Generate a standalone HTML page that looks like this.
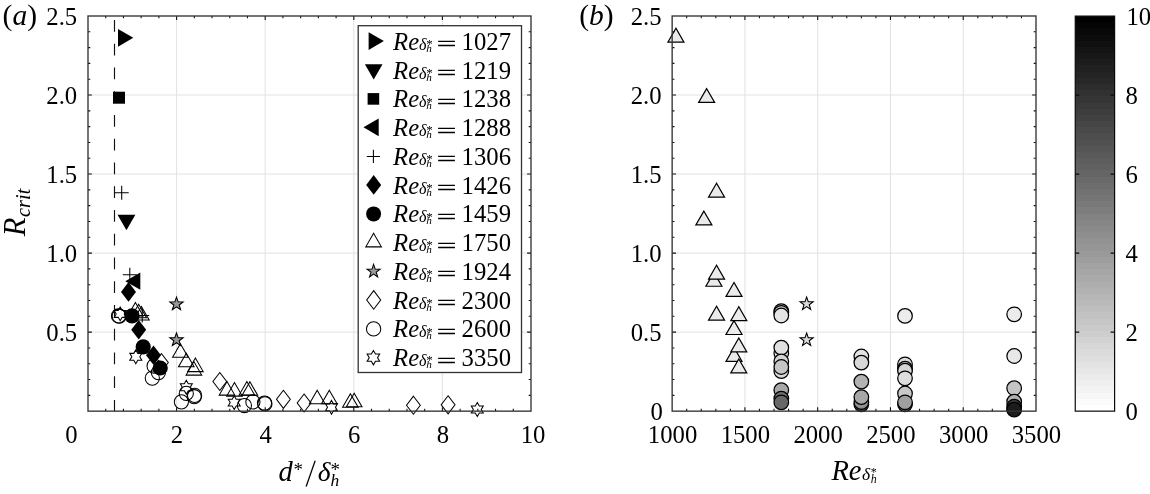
<!DOCTYPE html>
<html lang="en"><head><meta charset="utf-8"><title>Figure: R_crit scatter plots</title>
<style>html,body{margin:0;padding:0;background:#fff;}svg{display:block;}text{font-family:'Liberation Serif', 'DejaVu Serif', serif;fill:#000;}</style></head><body>
<svg width="1150" height="494" viewBox="0 0 1150 494" role="img" aria-label="Scatter plots of R_crit">
<rect width="1150" height="494" fill="#fff"/>
<g id="grid">
<path d="M176.6 16V411.15M265.2 16V411.15M353.8 16V411.15M442.4 16V411.15M88 332.12H531M88 253.09H531M88 174.06H531M88 95.03H531" stroke="#e2e2e2" stroke-width="1" fill="none"/>
<path d="M744.92 16V411.15M817.69 16V411.15M890.46 16V411.15M963.23 16V411.15M672.15 332.12H1036M672.15 253.09H1036M672.15 174.06H1036M672.15 95.03H1036" stroke="#e2e2e2" stroke-width="1" fill="none"/>
</g>
<path d="M114.5 19.9V31.7M114.5 43.65V55.45M114.5 67.4V79.2M114.5 91.15V102.95M114.5 114.9V126.7M114.5 138.65V150.45M114.5 162.4V174.2M114.5 186.15V197.95M114.5 209.9V221.7M114.5 233.65V245.45M114.5 257.4V269.2M114.5 281.15V292.95M114.5 304.9V316.7M114.5 328.65V340.45M114.5 352.4V364.2M114.5 376.15V387.95M114.5 399.9V411.15" stroke="#111" stroke-width="1.15" fill="none"/>
<g id="markers-a">
<polygon points="133.3,37.8 118,28.97 118,46.63" fill="#000" stroke="none" stroke-width="0" stroke-linejoin="miter" />
<polygon points="126.45,230.3 117.53,214.85 135.37,214.85" fill="#000" stroke="none" stroke-width="0" stroke-linejoin="miter" />
<rect x="113" y="91.7" width="12" height="12" fill="#000"/>
<polygon points="125.3,281.2 140.3,272.54 140.3,289.86" fill="#000" stroke="none" stroke-width="0" stroke-linejoin="miter" />
<path d="M114.7 192.7H128.7M121.7 185.7V199.7" stroke="#000" stroke-width="1.05" fill="none"/>
<path d="M122.8 274.7H136.8M129.8 267.7V281.7" stroke="#000" stroke-width="1.05" fill="none"/>
<path d="M135.2 315.4H149.2M142.2 308.4V322.4" stroke="#000" stroke-width="1.05" fill="none"/>
<polygon points="128.5,282.1 136,291.9 128.5,301.7 121,291.9" fill="#000" stroke="none" stroke-width="0" stroke-linejoin="miter" />
<polygon points="138.7,319.9 146.2,329.7 138.7,339.5 131.2,329.7" fill="#000" stroke="none" stroke-width="0" stroke-linejoin="miter" />
<polygon points="153.5,345.4 161,355.2 153.5,365 146,355.2" fill="#000" stroke="none" stroke-width="0" stroke-linejoin="miter" />
<circle cx="132" cy="315.9" r="7.6" fill="#000"/>
<circle cx="143.2" cy="346.8" r="7.6" fill="#000"/>
<circle cx="160.2" cy="368" r="7.6" fill="#000"/>
<polygon points="135.4,302.5 127.61,316 143.19,316" fill="none" stroke="#000" stroke-width="1.05" stroke-linejoin="miter" />
<polygon points="138.7,304.2 130.91,317.7 146.49,317.7" fill="none" stroke="#000" stroke-width="1.05" stroke-linejoin="miter" />
<polygon points="141.4,306.5 133.61,320 149.19,320" fill="none" stroke="#000" stroke-width="1.05" stroke-linejoin="miter" />
<polygon points="180.4,343.8 172.61,357.3 188.19,357.3" fill="none" stroke="#000" stroke-width="1.05" stroke-linejoin="miter" />
<polygon points="186.3,353.3 178.51,366.8 194.09,366.8" fill="none" stroke="#000" stroke-width="1.05" stroke-linejoin="miter" />
<polygon points="195.4,358.1 187.61,371.6 203.19,371.6" fill="none" stroke="#000" stroke-width="1.05" stroke-linejoin="miter" />
<polygon points="193.9,361.6 186.11,375.1 201.69,375.1" fill="none" stroke="#000" stroke-width="1.05" stroke-linejoin="miter" />
<polygon points="227,381.6 219.21,395.1 234.79,395.1" fill="none" stroke="#000" stroke-width="1.05" stroke-linejoin="miter" />
<polygon points="234.5,382.6 226.71,396.1 242.29,396.1" fill="none" stroke="#000" stroke-width="1.05" stroke-linejoin="miter" />
<polygon points="246.9,381.6 239.11,395.1 254.69,395.1" fill="none" stroke="#000" stroke-width="1.05" stroke-linejoin="miter" />
<polygon points="249.9,381.8 242.11,395.3 257.69,395.3" fill="none" stroke="#000" stroke-width="1.05" stroke-linejoin="miter" />
<polygon points="317.2,390.3 309.41,403.8 324.99,403.8" fill="none" stroke="#000" stroke-width="1.05" stroke-linejoin="miter" />
<polygon points="329.3,390.3 321.51,403.8 337.09,403.8" fill="none" stroke="#000" stroke-width="1.05" stroke-linejoin="miter" />
<polygon points="350.4,393.7 342.61,407.2 358.19,407.2" fill="none" stroke="#000" stroke-width="1.05" stroke-linejoin="miter" />
<polygon points="354.2,393.3 346.41,406.8 361.99,406.8" fill="none" stroke="#000" stroke-width="1.05" stroke-linejoin="miter" />
<polygon points="176.5,297.1 178.15,301.83 183.16,301.94 179.16,304.97 180.61,309.76 176.5,306.9 172.39,309.76 173.84,304.97 169.84,301.94 174.85,301.83" fill="#999" stroke="#000" stroke-width="1.05" stroke-linejoin="miter" />
<polygon points="176.5,332.9 178.15,337.63 183.16,337.74 179.16,340.77 180.61,345.56 176.5,342.7 172.39,345.56 173.84,340.77 169.84,337.74 174.85,337.63" fill="#999" stroke="#000" stroke-width="1.05" stroke-linejoin="miter" />
<polygon points="161.4,353.5 168.3,362.5 161.4,371.5 154.5,362.5" fill="none" stroke="#000" stroke-width="1.05" stroke-linejoin="miter" />
<polygon points="219.8,372.5 226.7,381.5 219.8,390.5 212.9,381.5" fill="none" stroke="#000" stroke-width="1.05" stroke-linejoin="miter" />
<polygon points="283.4,390.3 290.3,399.3 283.4,408.3 276.5,399.3" fill="none" stroke="#000" stroke-width="1.05" stroke-linejoin="miter" />
<polygon points="304.1,394 311,403 304.1,412 297.2,403" fill="none" stroke="#000" stroke-width="1.05" stroke-linejoin="miter" />
<polygon points="413.4,396.2 420.3,405.2 413.4,414.2 406.5,405.2" fill="none" stroke="#000" stroke-width="1.05" stroke-linejoin="miter" />
<polygon points="448.1,395.8 455,404.8 448.1,413.8 441.2,404.8" fill="none" stroke="#000" stroke-width="1.05" stroke-linejoin="miter" />
<circle cx="118.5" cy="315.9" r="7.1" fill="none" stroke="#000" stroke-width="1.05"/>
<circle cx="119.3" cy="316.2" r="7.1" fill="none" stroke="#000" stroke-width="1.05"/>
<circle cx="154.1" cy="366" r="7.1" fill="none" stroke="#000" stroke-width="1.05"/>
<circle cx="158.4" cy="372.6" r="7.1" fill="none" stroke="#000" stroke-width="1.05"/>
<circle cx="152.3" cy="378.1" r="7.1" fill="none" stroke="#000" stroke-width="1.05"/>
<circle cx="186.3" cy="393.4" r="7.1" fill="none" stroke="#000" stroke-width="1.05"/>
<circle cx="181.4" cy="401.8" r="7.1" fill="none" stroke="#000" stroke-width="1.05"/>
<circle cx="194.6" cy="395.4" r="7.1" fill="none" stroke="#000" stroke-width="1.05"/>
<circle cx="194.2" cy="396.7" r="7.1" fill="none" stroke="#000" stroke-width="1.05"/>
<circle cx="244.4" cy="405.5" r="7.1" fill="none" stroke="#000" stroke-width="1.05"/>
<circle cx="252.9" cy="401.9" r="7.1" fill="none" stroke="#000" stroke-width="1.05"/>
<circle cx="264.5" cy="403" r="7.1" fill="none" stroke="#000" stroke-width="1.05"/>
<circle cx="264.9" cy="403.9" r="7.1" fill="none" stroke="#000" stroke-width="1.05"/>
<polygon points="120.2,307 122.19,310.45 126.18,310.45 124.18,313.9 126.18,317.35 122.19,317.35 120.2,320.8 118.21,317.35 114.22,317.35 116.22,313.9 114.22,310.45 118.21,310.45" fill="none" stroke="#000" stroke-width="1.05" stroke-linejoin="miter" />
<polygon points="135.8,349.9 137.79,353.35 141.78,353.35 139.78,356.8 141.78,360.25 137.79,360.25 135.8,363.7 133.81,360.25 129.82,360.25 131.82,356.8 129.82,353.35 133.81,353.35" fill="none" stroke="#000" stroke-width="1.05" stroke-linejoin="miter" />
<polygon points="186.3,380.3 188.29,383.75 192.28,383.75 190.28,387.2 192.28,390.65 188.29,390.65 186.3,394.1 184.31,390.65 180.32,390.65 182.32,387.2 180.32,383.75 184.31,383.75" fill="none" stroke="#000" stroke-width="1.05" stroke-linejoin="miter" />
<polygon points="234.2,395.7 236.19,399.15 240.18,399.15 238.18,402.6 240.18,406.05 236.19,406.05 234.2,409.5 232.21,406.05 228.22,406.05 230.22,402.6 228.22,399.15 232.21,399.15" fill="none" stroke="#000" stroke-width="1.05" stroke-linejoin="miter" />
<polygon points="331.5,400.4 333.49,403.85 337.48,403.85 335.48,407.3 337.48,410.75 333.49,410.75 331.5,414.2 329.51,410.75 325.52,410.75 327.52,407.3 325.52,403.85 329.51,403.85" fill="none" stroke="#000" stroke-width="1.05" stroke-linejoin="miter" />
<polygon points="477.3,402.6 479.29,406.05 483.28,406.05 481.28,409.5 483.28,412.95 479.29,412.95 477.3,416.4 475.31,412.95 471.32,412.95 473.32,409.5 471.32,406.05 475.31,406.05" fill="none" stroke="#000" stroke-width="1.05" stroke-linejoin="miter" />
</g>
<g id="legend">
<rect x="358.2" y="25.7" width="163.3" height="346.8" fill="#fff" stroke="#333333" stroke-width="1.3"/>
<polygon points="383.9,41.1 368.6,32.27 368.6,49.93" fill="#000" stroke="none" stroke-width="0" stroke-linejoin="miter" />
<text x="393.1" y="49.9" font-size="24.7" text-anchor="start" font-style="italic" >Re</text>
<text x="418.9" y="49.9" font-size="16" text-anchor="start" font-style="italic" >&#948;</text>
<text x="426.3" y="48.2" font-size="13" text-anchor="start" >*</text>
<text x="426.2" y="51.8" font-size="11.2" text-anchor="start" font-style="italic" >h</text>
<text transform="translate(436.7 50.3) scale(1.41 0.74)" font-size="24.7" stroke="#000" stroke-width="0.45">=</text>
<text x="461.6" y="49.9" font-size="24.7" text-anchor="start" >1027</text>
<polygon points="373.7,79.55 364.87,64.25 382.53,64.25" fill="#000" stroke="none" stroke-width="0" stroke-linejoin="miter" />
<text x="393.1" y="78.65" font-size="24.7" text-anchor="start" font-style="italic" >Re</text>
<text x="418.9" y="78.65" font-size="16" text-anchor="start" font-style="italic" >&#948;</text>
<text x="426.3" y="76.95" font-size="13" text-anchor="start" >*</text>
<text x="426.2" y="80.55" font-size="11.2" text-anchor="start" font-style="italic" >h</text>
<text transform="translate(436.7 79.05) scale(1.41 0.74)" font-size="24.7" stroke="#000" stroke-width="0.45">=</text>
<text x="461.6" y="78.65" font-size="24.7" text-anchor="start" >1219</text>
<rect x="367.6" y="93.1" width="11.6" height="11.6" fill="#000"/>
<text x="393.1" y="107.4" font-size="24.7" text-anchor="start" font-style="italic" >Re</text>
<text x="418.9" y="107.4" font-size="16" text-anchor="start" font-style="italic" >&#948;</text>
<text x="426.3" y="105.7" font-size="13" text-anchor="start" >*</text>
<text x="426.2" y="109.3" font-size="11.2" text-anchor="start" font-style="italic" >h</text>
<text transform="translate(436.7 107.8) scale(1.41 0.74)" font-size="24.7" stroke="#000" stroke-width="0.45">=</text>
<text x="461.6" y="107.4" font-size="24.7" text-anchor="start" >1238</text>
<polygon points="363.45,127.35 378.67,118.56 378.67,136.14" fill="#000" stroke="none" stroke-width="0" stroke-linejoin="miter" />
<text x="393.1" y="136.15" font-size="24.7" text-anchor="start" font-style="italic" >Re</text>
<text x="418.9" y="136.15" font-size="16" text-anchor="start" font-style="italic" >&#948;</text>
<text x="426.3" y="134.45" font-size="13" text-anchor="start" >*</text>
<text x="426.2" y="138.05" font-size="11.2" text-anchor="start" font-style="italic" >h</text>
<text transform="translate(436.7 136.55) scale(1.41 0.74)" font-size="24.7" stroke="#000" stroke-width="0.45">=</text>
<text x="461.6" y="136.15" font-size="24.7" text-anchor="start" >1288</text>
<path d="M366.8 156.4H380M373.4 149.8V163" stroke="#000" stroke-width="1.05" fill="none"/>
<text x="393.1" y="164.9" font-size="24.7" text-anchor="start" font-style="italic" >Re</text>
<text x="418.9" y="164.9" font-size="16" text-anchor="start" font-style="italic" >&#948;</text>
<text x="426.3" y="163.2" font-size="13" text-anchor="start" >*</text>
<text x="426.2" y="166.8" font-size="11.2" text-anchor="start" font-style="italic" >h</text>
<text transform="translate(436.7 165.3) scale(1.41 0.74)" font-size="24.7" stroke="#000" stroke-width="0.45">=</text>
<text x="461.6" y="164.9" font-size="24.7" text-anchor="start" >1306</text>
<polygon points="373.7,175.05 381.2,184.95 373.7,194.85 366.2,184.95" fill="#000" stroke="none" stroke-width="0" stroke-linejoin="miter" />
<text x="393.1" y="193.65" font-size="24.7" text-anchor="start" font-style="italic" >Re</text>
<text x="418.9" y="193.65" font-size="16" text-anchor="start" font-style="italic" >&#948;</text>
<text x="426.3" y="191.95" font-size="13" text-anchor="start" >*</text>
<text x="426.2" y="195.55" font-size="11.2" text-anchor="start" font-style="italic" >h</text>
<text transform="translate(436.7 194.05) scale(1.41 0.74)" font-size="24.7" stroke="#000" stroke-width="0.45">=</text>
<text x="461.6" y="193.65" font-size="24.7" text-anchor="start" >1426</text>
<circle cx="373.6" cy="213.9" r="7.5" fill="#000"/>
<text x="393.1" y="222.4" font-size="24.7" text-anchor="start" font-style="italic" >Re</text>
<text x="418.9" y="222.4" font-size="16" text-anchor="start" font-style="italic" >&#948;</text>
<text x="426.3" y="220.7" font-size="13" text-anchor="start" >*</text>
<text x="426.2" y="224.3" font-size="11.2" text-anchor="start" font-style="italic" >h</text>
<text transform="translate(436.7 222.8) scale(1.41 0.74)" font-size="24.7" stroke="#000" stroke-width="0.45">=</text>
<text x="461.6" y="222.4" font-size="24.7" text-anchor="start" >1459</text>
<polygon points="373.6,233.35 365.81,246.85 381.39,246.85" fill="none" stroke="#000" stroke-width="1.05" stroke-linejoin="miter" />
<text x="393.1" y="251.15" font-size="24.7" text-anchor="start" font-style="italic" >Re</text>
<text x="418.9" y="251.15" font-size="16" text-anchor="start" font-style="italic" >&#948;</text>
<text x="426.3" y="249.45" font-size="13" text-anchor="start" >*</text>
<text x="426.2" y="253.05" font-size="11.2" text-anchor="start" font-style="italic" >h</text>
<text transform="translate(436.7 251.55) scale(1.41 0.74)" font-size="24.7" stroke="#000" stroke-width="0.45">=</text>
<text x="461.6" y="251.15" font-size="24.7" text-anchor="start" >1750</text>
<polygon points="373.6,264.4 375.22,269.07 380.16,269.17 376.22,272.15 377.66,276.88 373.6,274.06 369.54,276.88 370.98,272.15 367.04,269.17 371.98,269.07" fill="#999" stroke="#000" stroke-width="1.05" stroke-linejoin="miter" />
<text x="393.1" y="279.9" font-size="24.7" text-anchor="start" font-style="italic" >Re</text>
<text x="418.9" y="279.9" font-size="16" text-anchor="start" font-style="italic" >&#948;</text>
<text x="426.3" y="278.2" font-size="13" text-anchor="start" >*</text>
<text x="426.2" y="281.8" font-size="11.2" text-anchor="start" font-style="italic" >h</text>
<text transform="translate(436.7 280.3) scale(1.41 0.74)" font-size="24.7" stroke="#000" stroke-width="0.45">=</text>
<text x="461.6" y="279.9" font-size="24.7" text-anchor="start" >1924</text>
<polygon points="373.7,290.65 380.7,299.95 373.7,309.25 366.7,299.95" fill="none" stroke="#000" stroke-width="1.05" stroke-linejoin="miter" />
<text x="393.1" y="308.65" font-size="24.7" text-anchor="start" font-style="italic" >Re</text>
<text x="418.9" y="308.65" font-size="16" text-anchor="start" font-style="italic" >&#948;</text>
<text x="426.3" y="306.95" font-size="13" text-anchor="start" >*</text>
<text x="426.2" y="310.55" font-size="11.2" text-anchor="start" font-style="italic" >h</text>
<text transform="translate(436.7 309.05) scale(1.41 0.74)" font-size="24.7" stroke="#000" stroke-width="0.45">=</text>
<text x="461.6" y="308.65" font-size="24.7" text-anchor="start" >2300</text>
<circle cx="373.6" cy="328.9" r="7.15" fill="none" stroke="#000" stroke-width="1.05"/>
<text x="393.1" y="337.4" font-size="24.7" text-anchor="start" font-style="italic" >Re</text>
<text x="418.9" y="337.4" font-size="16" text-anchor="start" font-style="italic" >&#948;</text>
<text x="426.3" y="335.7" font-size="13" text-anchor="start" >*</text>
<text x="426.2" y="339.3" font-size="11.2" text-anchor="start" font-style="italic" >h</text>
<text transform="translate(436.7 337.8) scale(1.41 0.74)" font-size="24.7" stroke="#000" stroke-width="0.45">=</text>
<text x="461.6" y="337.4" font-size="24.7" text-anchor="start" >2600</text>
<polygon points="373.4,350.45 375.48,354.05 379.64,354.05 377.56,357.65 379.64,361.25 375.48,361.25 373.4,364.85 371.32,361.25 367.16,361.25 369.24,357.65 367.16,354.05 371.32,354.05" fill="none" stroke="#000" stroke-width="1.05" stroke-linejoin="miter" />
<text x="393.1" y="366.15" font-size="24.7" text-anchor="start" font-style="italic" >Re</text>
<text x="418.9" y="366.15" font-size="16" text-anchor="start" font-style="italic" >&#948;</text>
<text x="426.3" y="364.45" font-size="13" text-anchor="start" >*</text>
<text x="426.2" y="368.05" font-size="11.2" text-anchor="start" font-style="italic" >h</text>
<text transform="translate(436.7 366.55) scale(1.41 0.74)" font-size="24.7" stroke="#000" stroke-width="0.45">=</text>
<text x="461.6" y="366.15" font-size="24.7" text-anchor="start" >3350</text>
</g>
<g id="markers-b">
<polygon points="675.93,28.3 667.92,42.18 683.94,42.18" fill="#ebebeb" stroke="#000" stroke-width="1.2" stroke-linejoin="miter" />
<polygon points="703.87,211.1 695.86,224.97 711.88,224.97" fill="#ebebeb" stroke="#000" stroke-width="1.2" stroke-linejoin="miter" />
<polygon points="706.64,88.6 698.63,102.47 714.65,102.47" fill="#ebebeb" stroke="#000" stroke-width="1.2" stroke-linejoin="miter" />
<polygon points="713.92,272.35 705.9,286.23 721.93,286.23" fill="#ebebeb" stroke="#000" stroke-width="1.2" stroke-linejoin="miter" />
<polygon points="716.54,183.3 708.52,197.17 724.55,197.17" fill="#ebebeb" stroke="#000" stroke-width="1.2" stroke-linejoin="miter" />
<polygon points="716.54,265.25 708.52,279.12 724.55,279.12" fill="#ebebeb" stroke="#000" stroke-width="1.2" stroke-linejoin="miter" />
<polygon points="716.54,306.2 708.52,320.08 724.55,320.08" fill="#ebebeb" stroke="#000" stroke-width="1.2" stroke-linejoin="miter" />
<polygon points="734,282.5 725.99,296.38 742.01,296.38" fill="#ebebeb" stroke="#000" stroke-width="1.2" stroke-linejoin="miter" />
<polygon points="734,320.6 725.99,334.48 742.01,334.48" fill="#ebebeb" stroke="#000" stroke-width="1.2" stroke-linejoin="miter" />
<polygon points="734,347.5 725.99,361.38 742.01,361.38" fill="#ebebeb" stroke="#000" stroke-width="1.2" stroke-linejoin="miter" />
<polygon points="738.8,306.8 730.79,320.68 746.81,320.68" fill="#ebebeb" stroke="#000" stroke-width="1.2" stroke-linejoin="miter" />
<polygon points="738.8,338 730.79,351.88 746.81,351.88" fill="#ebebeb" stroke="#000" stroke-width="1.2" stroke-linejoin="miter" />
<polygon points="738.8,359 730.79,372.88 746.81,372.88" fill="#ebebeb" stroke="#000" stroke-width="1.2" stroke-linejoin="miter" />
<circle cx="781.3" cy="311.1" r="7.3" fill="#c8c8c8" stroke="#000" stroke-width="1.25"/>
<circle cx="781.3" cy="312.8" r="7.3" fill="#d0d0d0" stroke="#000" stroke-width="1.25"/>
<circle cx="781.3" cy="315.5" r="7.3" fill="#e4e4e4" stroke="#000" stroke-width="1.25"/>
<circle cx="781.3" cy="353.2" r="7.3" fill="#dcdcdc" stroke="#000" stroke-width="1.25"/>
<circle cx="781.3" cy="347.6" r="7.3" fill="#e0e0e0" stroke="#000" stroke-width="1.25"/>
<circle cx="781.3" cy="361.4" r="7.3" fill="#d4d4d4" stroke="#000" stroke-width="1.25"/>
<circle cx="781.3" cy="371.1" r="7.3" fill="#d8d8d8" stroke="#000" stroke-width="1.25"/>
<circle cx="781.3" cy="367" r="7.3" fill="#c6c6c6" stroke="#000" stroke-width="1.25"/>
<circle cx="781.3" cy="390.1" r="7.3" fill="#a8a8a8" stroke="#000" stroke-width="1.25"/>
<circle cx="781.3" cy="398.6" r="7.3" fill="#707070" stroke="#000" stroke-width="1.25"/>
<circle cx="781.3" cy="402.3" r="7.3" fill="#686868" stroke="#000" stroke-width="1.25"/>
<circle cx="861.35" cy="356.5" r="7.3" fill="#e2e2e2" stroke="#000" stroke-width="1.25"/>
<circle cx="861.35" cy="362.6" r="7.3" fill="#d8d8d8" stroke="#000" stroke-width="1.25"/>
<circle cx="861.35" cy="381.6" r="7.3" fill="#b2b2b2" stroke="#000" stroke-width="1.25"/>
<circle cx="861.35" cy="404.3" r="7.3" fill="#505050" stroke="#000" stroke-width="1.25"/>
<circle cx="861.35" cy="402.1" r="7.3" fill="#909090" stroke="#000" stroke-width="1.25"/>
<circle cx="861.35" cy="397.1" r="7.3" fill="#a8a8a8" stroke="#000" stroke-width="1.25"/>
<circle cx="905.01" cy="364.3" r="7.3" fill="#dcdcdc" stroke="#000" stroke-width="1.25"/>
<circle cx="905.01" cy="368.6" r="7.3" fill="#d0d0d0" stroke="#000" stroke-width="1.25"/>
<circle cx="905.01" cy="370.7" r="7.3" fill="#d6d6d6" stroke="#000" stroke-width="1.25"/>
<circle cx="905.01" cy="378.3" r="7.3" fill="#dedede" stroke="#000" stroke-width="1.25"/>
<circle cx="905.01" cy="393.5" r="7.3" fill="#c8c8c8" stroke="#000" stroke-width="1.25"/>
<circle cx="905.01" cy="404.3" r="7.3" fill="#888888" stroke="#000" stroke-width="1.25"/>
<circle cx="905.01" cy="402.3" r="7.3" fill="#a0a0a0" stroke="#000" stroke-width="1.25"/>
<circle cx="905.01" cy="315.9" r="7.3" fill="#ececec" stroke="#000" stroke-width="1.25"/>
<circle cx="1014.17" cy="314.3" r="7.3" fill="#ececec" stroke="#000" stroke-width="1.25"/>
<circle cx="1014.17" cy="356" r="7.3" fill="#e8e8e8" stroke="#000" stroke-width="1.25"/>
<circle cx="1014.17" cy="388.2" r="7.3" fill="#c4c4c4" stroke="#000" stroke-width="1.25"/>
<circle cx="1014.17" cy="401.7" r="7.3" fill="#b0b0b0" stroke="#000" stroke-width="1.25"/>
<circle cx="1014.17" cy="406.7" r="7.3" fill="#3c3c3c" stroke="#000" stroke-width="1.25"/>
<circle cx="1014.17" cy="409.6" r="7.3" fill="#1c1c1c" stroke="#000" stroke-width="1.25"/>
<polygon points="806.63,297 808.25,301.67 813.19,301.77 809.25,304.75 810.68,309.48 806.63,306.66 802.57,309.48 804,304.75 800.07,301.77 805.01,301.67" fill="#dcdcdc" stroke="#000" stroke-width="1.05" stroke-linejoin="miter" />
<polygon points="806.63,333 808.25,337.67 813.19,337.77 809.25,340.75 810.68,345.48 806.63,342.66 802.57,345.48 804,340.75 800.07,337.77 805.01,337.67" fill="#dcdcdc" stroke="#000" stroke-width="1.05" stroke-linejoin="miter" />
</g>
<g id="frames">
<path d="M105.72 411.15v-2.3M105.72 16v2.3M123.44 411.15v-2.3M123.44 16v2.3M141.16 411.15v-2.3M141.16 16v2.3M158.88 411.15v-2.3M158.88 16v2.3M176.6 411.15v-2.3M176.6 16v2.3M194.32 411.15v-2.3M194.32 16v2.3M212.04 411.15v-2.3M212.04 16v2.3M229.76 411.15v-2.3M229.76 16v2.3M247.48 411.15v-2.3M247.48 16v2.3M265.2 411.15v-2.3M265.2 16v2.3M282.92 411.15v-2.3M282.92 16v2.3M300.64 411.15v-2.3M300.64 16v2.3M318.36 411.15v-2.3M318.36 16v2.3M336.08 411.15v-2.3M336.08 16v2.3M353.8 411.15v-2.3M353.8 16v2.3M371.52 411.15v-2.3M371.52 16v2.3M389.24 411.15v-2.3M389.24 16v2.3M406.96 411.15v-2.3M406.96 16v2.3M424.68 411.15v-2.3M424.68 16v2.3M442.4 411.15v-2.3M442.4 16v2.3M460.12 411.15v-2.3M460.12 16v2.3M477.84 411.15v-2.3M477.84 16v2.3M495.56 411.15v-2.3M495.56 16v2.3M513.28 411.15v-2.3M513.28 16v2.3M176.6 411.15v-3.9M176.6 16v3.9M265.2 411.15v-3.9M265.2 16v3.9M353.8 411.15v-3.9M353.8 16v3.9M442.4 411.15v-3.9M442.4 16v3.9M88 395.34h2.3M531 395.34h-2.3M88 379.54h2.3M531 379.54h-2.3M88 363.73h2.3M531 363.73h-2.3M88 347.93h2.3M531 347.93h-2.3M88 332.12h2.3M531 332.12h-2.3M88 316.31h2.3M531 316.31h-2.3M88 300.51h2.3M531 300.51h-2.3M88 284.7h2.3M531 284.7h-2.3M88 268.9h2.3M531 268.9h-2.3M88 253.09h2.3M531 253.09h-2.3M88 237.28h2.3M531 237.28h-2.3M88 221.48h2.3M531 221.48h-2.3M88 205.67h2.3M531 205.67h-2.3M88 189.87h2.3M531 189.87h-2.3M88 174.06h2.3M531 174.06h-2.3M88 158.25h2.3M531 158.25h-2.3M88 142.45h2.3M531 142.45h-2.3M88 126.64h2.3M531 126.64h-2.3M88 110.84h2.3M531 110.84h-2.3M88 95.03h2.3M531 95.03h-2.3M88 79.22h2.3M531 79.22h-2.3M88 63.42h2.3M531 63.42h-2.3M88 47.61h2.3M531 47.61h-2.3M88 31.81h2.3M531 31.81h-2.3M88 332.12h3.9M531 332.12h-3.9M88 253.09h3.9M531 253.09h-3.9M88 174.06h3.9M531 174.06h-3.9M88 95.03h3.9M531 95.03h-3.9" stroke="#111" stroke-width="1.1" fill="none"/>
<rect x="88" y="16" width="443" height="395.15" fill="none" stroke="#333333" stroke-width="1.35"/>
<path d="M686.7 411.15v-2.3M686.7 16v2.3M701.26 411.15v-2.3M701.26 16v2.3M715.81 411.15v-2.3M715.81 16v2.3M730.37 411.15v-2.3M730.37 16v2.3M744.92 411.15v-2.3M744.92 16v2.3M759.47 411.15v-2.3M759.47 16v2.3M774.03 411.15v-2.3M774.03 16v2.3M788.58 411.15v-2.3M788.58 16v2.3M803.14 411.15v-2.3M803.14 16v2.3M817.69 411.15v-2.3M817.69 16v2.3M832.24 411.15v-2.3M832.24 16v2.3M846.8 411.15v-2.3M846.8 16v2.3M861.35 411.15v-2.3M861.35 16v2.3M875.91 411.15v-2.3M875.91 16v2.3M890.46 411.15v-2.3M890.46 16v2.3M905.01 411.15v-2.3M905.01 16v2.3M919.57 411.15v-2.3M919.57 16v2.3M934.12 411.15v-2.3M934.12 16v2.3M948.68 411.15v-2.3M948.68 16v2.3M963.23 411.15v-2.3M963.23 16v2.3M977.78 411.15v-2.3M977.78 16v2.3M992.34 411.15v-2.3M992.34 16v2.3M1006.89 411.15v-2.3M1006.89 16v2.3M1021.45 411.15v-2.3M1021.45 16v2.3M744.92 411.15v-3.9M744.92 16v3.9M817.69 411.15v-3.9M817.69 16v3.9M890.46 411.15v-3.9M890.46 16v3.9M963.23 411.15v-3.9M963.23 16v3.9M672.15 395.34h2.3M1036 395.34h-2.3M672.15 379.54h2.3M1036 379.54h-2.3M672.15 363.73h2.3M1036 363.73h-2.3M672.15 347.93h2.3M1036 347.93h-2.3M672.15 332.12h2.3M1036 332.12h-2.3M672.15 316.31h2.3M1036 316.31h-2.3M672.15 300.51h2.3M1036 300.51h-2.3M672.15 284.7h2.3M1036 284.7h-2.3M672.15 268.9h2.3M1036 268.9h-2.3M672.15 253.09h2.3M1036 253.09h-2.3M672.15 237.28h2.3M1036 237.28h-2.3M672.15 221.48h2.3M1036 221.48h-2.3M672.15 205.67h2.3M1036 205.67h-2.3M672.15 189.87h2.3M1036 189.87h-2.3M672.15 174.06h2.3M1036 174.06h-2.3M672.15 158.25h2.3M1036 158.25h-2.3M672.15 142.45h2.3M1036 142.45h-2.3M672.15 126.64h2.3M1036 126.64h-2.3M672.15 110.84h2.3M1036 110.84h-2.3M672.15 95.03h2.3M1036 95.03h-2.3M672.15 79.22h2.3M1036 79.22h-2.3M672.15 63.42h2.3M1036 63.42h-2.3M672.15 47.61h2.3M1036 47.61h-2.3M672.15 31.81h2.3M1036 31.81h-2.3M672.15 332.12h3.9M1036 332.12h-3.9M672.15 253.09h3.9M1036 253.09h-3.9M672.15 174.06h3.9M1036 174.06h-3.9M672.15 95.03h3.9M1036 95.03h-3.9" stroke="#111" stroke-width="1.1" fill="none"/>
<rect x="672.15" y="16" width="363.85" height="395.15" fill="none" stroke="#333333" stroke-width="1.35"/>
</g>
<defs><linearGradient id="cb" x1="0" y1="0" x2="0" y2="1">
<stop offset="0%" stop-color="#000000"/><stop offset="1.56%" stop-color="#000000"/>
<stop offset="1.56%" stop-color="#040404"/><stop offset="3.12%" stop-color="#040404"/>
<stop offset="3.12%" stop-color="#080808"/><stop offset="4.69%" stop-color="#080808"/>
<stop offset="4.69%" stop-color="#0c0c0c"/><stop offset="6.25%" stop-color="#0c0c0c"/>
<stop offset="6.25%" stop-color="#101010"/><stop offset="7.81%" stop-color="#101010"/>
<stop offset="7.81%" stop-color="#141414"/><stop offset="9.38%" stop-color="#141414"/>
<stop offset="9.38%" stop-color="#181818"/><stop offset="10.94%" stop-color="#181818"/>
<stop offset="10.94%" stop-color="#1c1c1c"/><stop offset="12.5%" stop-color="#1c1c1c"/>
<stop offset="12.5%" stop-color="#202020"/><stop offset="14.06%" stop-color="#202020"/>
<stop offset="14.06%" stop-color="#242424"/><stop offset="15.62%" stop-color="#242424"/>
<stop offset="15.62%" stop-color="#282828"/><stop offset="17.19%" stop-color="#282828"/>
<stop offset="17.19%" stop-color="#2d2d2d"/><stop offset="18.75%" stop-color="#2d2d2d"/>
<stop offset="18.75%" stop-color="#313131"/><stop offset="20.31%" stop-color="#313131"/>
<stop offset="20.31%" stop-color="#353535"/><stop offset="21.88%" stop-color="#353535"/>
<stop offset="21.88%" stop-color="#393939"/><stop offset="23.44%" stop-color="#393939"/>
<stop offset="23.44%" stop-color="#3d3d3d"/><stop offset="25%" stop-color="#3d3d3d"/>
<stop offset="25%" stop-color="#414141"/><stop offset="26.56%" stop-color="#414141"/>
<stop offset="26.56%" stop-color="#454545"/><stop offset="28.12%" stop-color="#454545"/>
<stop offset="28.12%" stop-color="#494949"/><stop offset="29.69%" stop-color="#494949"/>
<stop offset="29.69%" stop-color="#4d4d4d"/><stop offset="31.25%" stop-color="#4d4d4d"/>
<stop offset="31.25%" stop-color="#515151"/><stop offset="32.81%" stop-color="#515151"/>
<stop offset="32.81%" stop-color="#555555"/><stop offset="34.38%" stop-color="#555555"/>
<stop offset="34.38%" stop-color="#595959"/><stop offset="35.94%" stop-color="#595959"/>
<stop offset="35.94%" stop-color="#5d5d5d"/><stop offset="37.5%" stop-color="#5d5d5d"/>
<stop offset="37.5%" stop-color="#616161"/><stop offset="39.06%" stop-color="#616161"/>
<stop offset="39.06%" stop-color="#656565"/><stop offset="40.62%" stop-color="#656565"/>
<stop offset="40.62%" stop-color="#696969"/><stop offset="42.19%" stop-color="#696969"/>
<stop offset="42.19%" stop-color="#6d6d6d"/><stop offset="43.75%" stop-color="#6d6d6d"/>
<stop offset="43.75%" stop-color="#717171"/><stop offset="45.31%" stop-color="#717171"/>
<stop offset="45.31%" stop-color="#757575"/><stop offset="46.88%" stop-color="#757575"/>
<stop offset="46.88%" stop-color="#797979"/><stop offset="48.44%" stop-color="#797979"/>
<stop offset="48.44%" stop-color="#7d7d7d"/><stop offset="50%" stop-color="#7d7d7d"/>
<stop offset="50%" stop-color="#828282"/><stop offset="51.56%" stop-color="#828282"/>
<stop offset="51.56%" stop-color="#868686"/><stop offset="53.12%" stop-color="#868686"/>
<stop offset="53.12%" stop-color="#8a8a8a"/><stop offset="54.69%" stop-color="#8a8a8a"/>
<stop offset="54.69%" stop-color="#8e8e8e"/><stop offset="56.25%" stop-color="#8e8e8e"/>
<stop offset="56.25%" stop-color="#929292"/><stop offset="57.81%" stop-color="#929292"/>
<stop offset="57.81%" stop-color="#969696"/><stop offset="59.38%" stop-color="#969696"/>
<stop offset="59.38%" stop-color="#9a9a9a"/><stop offset="60.94%" stop-color="#9a9a9a"/>
<stop offset="60.94%" stop-color="#9e9e9e"/><stop offset="62.5%" stop-color="#9e9e9e"/>
<stop offset="62.5%" stop-color="#a2a2a2"/><stop offset="64.06%" stop-color="#a2a2a2"/>
<stop offset="64.06%" stop-color="#a6a6a6"/><stop offset="65.62%" stop-color="#a6a6a6"/>
<stop offset="65.62%" stop-color="#aaaaaa"/><stop offset="67.19%" stop-color="#aaaaaa"/>
<stop offset="67.19%" stop-color="#aeaeae"/><stop offset="68.75%" stop-color="#aeaeae"/>
<stop offset="68.75%" stop-color="#b2b2b2"/><stop offset="70.31%" stop-color="#b2b2b2"/>
<stop offset="70.31%" stop-color="#b6b6b6"/><stop offset="71.88%" stop-color="#b6b6b6"/>
<stop offset="71.88%" stop-color="#bababa"/><stop offset="73.44%" stop-color="#bababa"/>
<stop offset="73.44%" stop-color="#bebebe"/><stop offset="75%" stop-color="#bebebe"/>
<stop offset="75%" stop-color="#c2c2c2"/><stop offset="76.56%" stop-color="#c2c2c2"/>
<stop offset="76.56%" stop-color="#c6c6c6"/><stop offset="78.12%" stop-color="#c6c6c6"/>
<stop offset="78.12%" stop-color="#cacaca"/><stop offset="79.69%" stop-color="#cacaca"/>
<stop offset="79.69%" stop-color="#cecece"/><stop offset="81.25%" stop-color="#cecece"/>
<stop offset="81.25%" stop-color="#d2d2d2"/><stop offset="82.81%" stop-color="#d2d2d2"/>
<stop offset="82.81%" stop-color="#d7d7d7"/><stop offset="84.38%" stop-color="#d7d7d7"/>
<stop offset="84.38%" stop-color="#dbdbdb"/><stop offset="85.94%" stop-color="#dbdbdb"/>
<stop offset="85.94%" stop-color="#dfdfdf"/><stop offset="87.5%" stop-color="#dfdfdf"/>
<stop offset="87.5%" stop-color="#e3e3e3"/><stop offset="89.06%" stop-color="#e3e3e3"/>
<stop offset="89.06%" stop-color="#e7e7e7"/><stop offset="90.62%" stop-color="#e7e7e7"/>
<stop offset="90.62%" stop-color="#ebebeb"/><stop offset="92.19%" stop-color="#ebebeb"/>
<stop offset="92.19%" stop-color="#efefef"/><stop offset="93.75%" stop-color="#efefef"/>
<stop offset="93.75%" stop-color="#f3f3f3"/><stop offset="95.31%" stop-color="#f3f3f3"/>
<stop offset="95.31%" stop-color="#f7f7f7"/><stop offset="96.88%" stop-color="#f7f7f7"/>
<stop offset="96.88%" stop-color="#fbfbfb"/><stop offset="98.44%" stop-color="#fbfbfb"/>
<stop offset="98.44%" stop-color="#ffffff"/><stop offset="100%" stop-color="#ffffff"/>
</linearGradient></defs>
<g id="colourbar">
<rect x="1075.25" y="16.1" width="39.35" height="395.05" fill="url(#cb)" stroke="#0a0a0a" stroke-width="1.2"/>
<path d="M1075.25 332.14h4M1114.6 332.14h-4M1075.25 253.13h4M1114.6 253.13h-4M1075.25 174.12h4M1114.6 174.12h-4M1075.25 95.11h4M1114.6 95.11h-4" stroke="#0a0a0a" stroke-width="1.15" fill="none"/>
<text x="1125.6" y="419.75" font-size="24.7" text-anchor="start" >0</text>
<text x="1125.6" y="340.74" font-size="24.7" text-anchor="start" >2</text>
<text x="1125.6" y="261.73" font-size="24.7" text-anchor="start" >4</text>
<text x="1125.6" y="182.72" font-size="24.7" text-anchor="start" >6</text>
<text x="1125.6" y="103.71" font-size="24.7" text-anchor="start" >8</text>
<text x="1126.4" y="24.7" font-size="24.7" text-anchor="start" >10</text>
</g>
<g id="ticklabels">
<text x="77.2" y="340.72" font-size="24.7" text-anchor="end" >0.5</text>
<text x="661.6" y="340.72" font-size="24.7" text-anchor="end" >0.5</text>
<text x="77.2" y="261.69" font-size="24.7" text-anchor="end" >1.0</text>
<text x="661.6" y="261.69" font-size="24.7" text-anchor="end" >1.0</text>
<text x="77.2" y="182.66" font-size="24.7" text-anchor="end" >1.5</text>
<text x="661.6" y="182.66" font-size="24.7" text-anchor="end" >1.5</text>
<text x="77.2" y="103.63" font-size="24.7" text-anchor="end" >2.0</text>
<text x="661.6" y="103.63" font-size="24.7" text-anchor="end" >2.0</text>
<text x="77.2" y="24.6" font-size="24.7" text-anchor="end" >2.5</text>
<text x="661.6" y="24.6" font-size="24.7" text-anchor="end" >2.5</text>
<text x="71.4" y="442.8" font-size="24.7" text-anchor="middle" >0</text>
<text x="177" y="442.8" font-size="24.7" text-anchor="middle" >2</text>
<text x="265.6" y="442.8" font-size="24.7" text-anchor="middle" >4</text>
<text x="354.2" y="442.8" font-size="24.7" text-anchor="middle" >6</text>
<text x="442.8" y="442.8" font-size="24.7" text-anchor="middle" >8</text>
<text x="533" y="442.8" font-size="24.7" text-anchor="middle" >10</text>
<text x="662.8" y="420.2" font-size="24.7" text-anchor="end" >0</text>
<text x="672.55" y="442.8" font-size="24.7" text-anchor="middle" >1000</text>
<text x="745.32" y="442.8" font-size="24.7" text-anchor="middle" >1500</text>
<text x="818.09" y="442.8" font-size="24.7" text-anchor="middle" >2000</text>
<text x="890.86" y="442.8" font-size="24.7" text-anchor="middle" >2500</text>
<text x="963.63" y="442.8" font-size="24.7" text-anchor="middle" >3000</text>
<text x="1036.4" y="442.8" font-size="24.7" text-anchor="middle" >3500</text>
</g>
<g id="labels">
<text x="2.6" y="24.8" font-size="29.5">(<tspan font-style="italic">a</tspan>)</text>
<text x="579.2" y="24.8" font-size="29.5">(<tspan font-style="italic">b</tspan>)</text>
<g transform="translate(25.3 236.2) rotate(-90)"><text x="0" y="0" font-size="30.6" font-style="italic">R</text><text x="19.3" y="4.3" font-size="20.3" font-style="italic">crit</text></g>
<text x="278.6" y="480.5" font-size="28.5" text-anchor="start" font-style="italic" >d</text>
<text x="293.6" y="475.7" font-size="19" text-anchor="start" >*</text>
<text transform="translate(305.4 486.4) skewX(-5.5) scale(1.0 1.34)" font-size="28.5">/</text>
<text x="317.8" y="480.5" font-size="27.5" text-anchor="start" font-style="italic" >&#948;</text>
<text x="330.6" y="475.7" font-size="19" text-anchor="start" >*</text>
<text x="330.4" y="485.6" font-size="17.5" text-anchor="start" font-style="italic" >h</text>
<text x="831.4" y="480.3" font-size="28.5" text-anchor="start" font-style="italic" >Re</text>
<text x="862" y="480.3" font-size="17.5" text-anchor="start" font-style="italic" >&#948;</text>
<text x="870.8" y="476" font-size="12" text-anchor="start" >*</text>
<text x="870.8" y="483.4" font-size="12" text-anchor="start" font-style="italic" >h</text>
</g>
</svg></body></html>
